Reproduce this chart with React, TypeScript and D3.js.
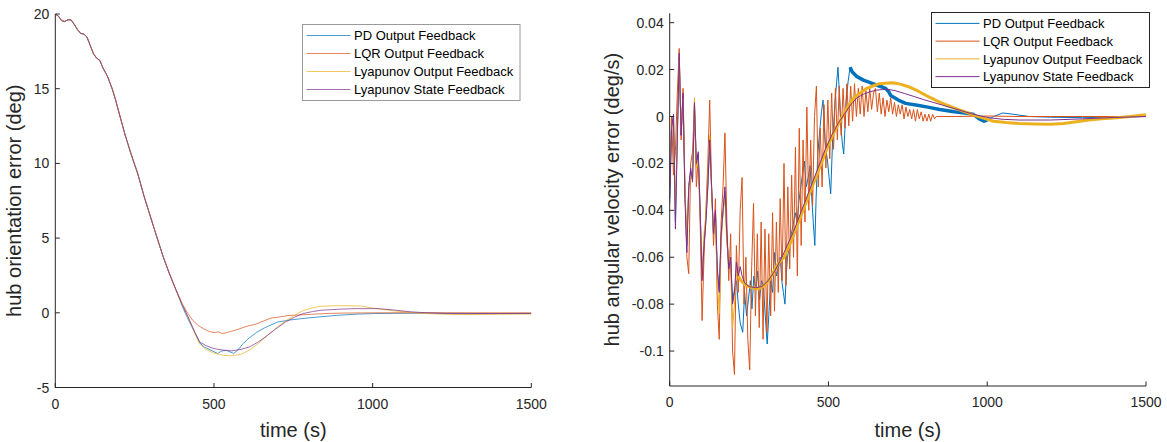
import React from 'react';
import * as d3 from 'd3';

type Pt = [number, number];

const SERIES_NAMES = [
  'PD Output Feedback',
  'LQR Output Feedback',
  'Lyapunov Output Feedback',
  'Lyapunov State Feedback',
];
const COLORS = ['#0072BD', '#D95319', '#EDB120', '#7E2F8E'];

const TIME_TICKS = [0, 500, 1000, 1500];
const ORIENT_TICKS = [-5, 0, 5, 10, 15, 20];
const RATE_TICKS = [-0.1, -0.08, -0.06, -0.04, -0.02, 0, 0.02, 0.04];

// ---- hub orientation error (deg): all four runs share the first 380 s
const orientShared: Pt[] = [
  [0, 20.0], [10, 19.85], [20, 19.55], [30, 19.5], [40, 19.62], [50, 19.6], [60, 19.3],
  [70, 18.95], [80, 18.7], [90, 18.66], [100, 18.45], [110, 17.9], [120, 17.35], [130, 17.05],
  [140, 16.9], [150, 16.4], [165, 15.8], [180, 14.95], [190, 14.25], [200, 13.45], [220, 11.9],
  [240, 10.55], [260, 9.3], [280, 7.78], [300, 6.42], [320, 5.07], [340, 3.75], [360, 2.6],
  [380, 1.55],
];
const pdOrientTail: Pt[] = [
  [390, 1.0], [400, 0.45], [410, -0.05], [420, -0.5], [440, -1.35], [455, -2.0], [470, -2.3],
  [490, -2.5], [511, -2.72], [525, -2.55], [540, -2.52], [562, -2.72], [575, -2.5], [590, -2.1],
  [610, -1.7], [635, -1.3], [660, -1.0], [700, -0.62], [740, -0.48], [780, -0.38], [830, -0.28],
  [893, -0.16], [950, -0.09], [1006, -0.05], [1100, -0.03], [1200, -0.02], [1300, -0.04],
  [1400, -0.05], [1500, -0.05],
];
const lqrOrientTail: Pt[] = [
  [390, 1.1], [400, 0.6], [415, 0.05], [433, -0.5], [450, -0.85], [466, -1.05], [485, -1.25],
  [500, -1.32], [515, -1.28], [525, -1.38], [539, -1.34], [552, -1.25], [567, -1.17], [590, -1.0],
  [612, -0.85], [630, -0.78], [650, -0.6], [680, -0.35], [700, -0.3], [736, -0.18], [792, -0.12],
  [850, -0.05], [900, -0.02], [1000, 0.0], [1100, 0.0], [1200, 0.0], [1300, 0.0], [1500, 0.0],
];
const lyapOutOrientTail: Pt[] = [
  [390, 1.05], [400, 0.55], [420, -0.35], [440, -1.4], [455, -2.1], [475, -2.45], [500, -2.7],
  [530, -2.85], [556, -2.88], [585, -2.78], [612, -2.5], [640, -2.05], [669, -1.5], [700, -0.95],
  [725, -0.55], [755, -0.15], [781, 0.15], [810, 0.33], [837, 0.44], [893, 0.48], [961, 0.46],
  [1006, 0.3], [1062, 0.14], [1120, 0.03], [1174, -0.05], [1230, -0.1], [1287, -0.12],
  [1400, -0.1], [1500, -0.08],
];
const lyapStateOrientTail: Pt[] = [
  [390, 1.05], [400, 0.55], [420, -0.35], [440, -1.3], [455, -1.95], [475, -2.2], [500, -2.4],
  [530, -2.5], [556, -2.55], [585, -2.45], [612, -2.28], [640, -1.95], [669, -1.5], [700, -1.0],
  [725, -0.62], [755, -0.28], [781, -0.05], [810, 0.08], [837, 0.17], [893, 0.24], [949, 0.28],
  [1017, 0.28], [1070, 0.18], [1118, 0.07], [1170, 0.0], [1230, -0.05], [1300, -0.06],
  [1400, -0.05], [1500, -0.04],
];

// ---- hub angular velocity error (deg/s): early samples every 6 s, then explicit points
const RATE_STEP = 6;

const pdRateEarly = [
  -0.035, -0.004, 0.000, -0.045, -0.008, 0.025, -0.008, 0.009, -0.033, -0.055,
  -0.030, -0.023, -0.027, 0.005, -0.021, -0.016, -0.041, -0.068, -0.054, -0.044,
  -0.030, -0.012, -0.031, -0.050, -0.041, -0.066, -0.074, -0.051, -0.041, -0.032,
  -0.051, -0.064, -0.062, -0.078, -0.074, -0.070, -0.080, -0.088,
];
const pdRateLate: Pt[] = [
  [230, -0.092], [236, -0.075], [242, -0.085], [248, -0.078], [254, -0.070], [259, -0.082],
  [265, -0.068], [271, -0.074], [277, -0.066], [283, -0.078], [289, -0.070], [295, -0.072],
  [301, -0.085], [307, -0.097], [312, -0.085], [318, -0.070], [324, -0.075], [330, -0.058],
  [336, -0.068], [342, -0.065], [348, -0.060], [354, -0.071], [358, -0.075], [363, -0.080],
  [367, -0.068], [371, -0.060], [377, -0.055], [383, -0.050], [389, -0.046], [395, -0.041],
  [401, -0.045], [407, -0.036], [413, -0.030], [418, -0.025], [424, -0.019], [430, -0.030],
  [436, -0.026], [442, -0.021], [448, -0.036], [452, -0.045], [457, -0.055], [461, -0.035],
  [466, -0.017], [470, -0.010], [474, -0.004], [478, 0.002], [483, 0.007], [489, -0.010],
  [493, -0.015], [497, -0.019], [502, -0.026], [507, -0.033], [513, -0.010], [517, -0.002],
  [521, 0.007], [526, 0.015], [530, 0.021], [535, 0.008], [539, -0.004], [544, -0.012],
  [548, -0.016], [552, -0.005], [556, 0.007], [562, 0.015], [568, 0.021], [575, 0.019],
  [590, 0.017], [610, 0.0155], [640, 0.014], [660, 0.013], [680, 0.012], [690, 0.0105],
  [696, 0.009], [720, 0.007], [743, 0.0056], [780, 0.0048], [813, 0.004], [850, 0.003],
  [896, 0.002], [930, 0.0015], [955, 0.001], [975, -0.001], [990, -0.002], [1000, -0.0015],
  [1020, 0.0], [1049, 0.0015], [1080, 0.001], [1132, 0.0], [1200, -0.0003], [1300, -0.0005],
  [1400, -0.0004], [1500, 0.0],
];

const lqrRateEarly = [
  -0.030, 0.000, -0.025, -0.015, 0.010, 0.029, -0.010, 0.012, -0.030, -0.060,
  -0.067, -0.020, -0.015, 0.005, -0.030, -0.018, -0.045, -0.087, -0.060, -0.040,
  -0.020, 0.007, -0.030, -0.055, -0.035, -0.080, -0.095, -0.045, -0.030, -0.007,
  -0.045, -0.070, -0.050, -0.100, -0.110, -0.055, -0.075, -0.040, -0.026, -0.080,
  -0.060, -0.095, -0.108, -0.065, -0.037, -0.085, -0.050, -0.090, -0.045, -0.095,
  -0.048, -0.092, -0.050, -0.085, -0.041, -0.083, -0.045, -0.075, -0.035, -0.070,
  -0.020, -0.072, -0.030, -0.065, -0.025, -0.060, -0.013, -0.068, -0.005, -0.055,
  -0.010, -0.045, 0.004, -0.040, -0.010, -0.038, 0.000, 0.013, -0.030, -0.005,
  -0.030, 0.005, -0.022, 0.007, -0.018, 0.010, -0.014, 0.012, -0.010, 0.013,
  -0.008, 0.012, -0.005, 0.014, -0.004, 0.013, -0.002, 0.014, 0.000, 0.012,
  0.001, 0.013, 0.000, 0.011, 0.002, 0.012, 0.003, 0.010, 0.012, 0.002,
  0.010, 0.001, 0.008, 0.000, 0.007, 0.002, 0.008, 0.001, 0.006, 0.000,
  0.005, 0.001, 0.005, -0.001, 0.004, 0.000, 0.003, -0.001, 0.003, -0.002,
  0.003, -0.001, 0.002, -0.002, 0.001, -0.002, 0.001, -0.002, 0.001, -0.001,
  0.000,
];
const lqrRateLate: Pt[] = [
  [900, 0.0], [1000, 0.0002], [1100, 0.0], [1200, 0.0], [1300, 0.0], [1400, 0.0], [1500, 0.0],
];

const lyapOutRateEarly = [
  -0.030, -0.005, 0.000, -0.040, -0.005, 0.024, -0.005, 0.008, -0.030, -0.052,
  -0.030, -0.025, -0.025, 0.008, -0.022, -0.018, -0.040, -0.068, -0.050, -0.042,
  -0.028, -0.008, -0.032, -0.050, -0.045, -0.070, -0.084, -0.055, -0.040, -0.035,
  -0.055, -0.060, -0.065, -0.090, -0.080, -0.066, -0.068,
];
const lyapOutRateLate: Pt[] = [
  [225, -0.070], [240, -0.072], [260, -0.073], [280, -0.0735], [300, -0.072], [320, -0.068],
  [340, -0.063], [360, -0.060], [380, -0.054], [400, -0.047], [420, -0.040], [440, -0.033],
  [460, -0.026], [480, -0.019], [500, -0.012], [520, -0.006], [540, -0.001], [560, 0.004],
  [580, 0.008], [600, 0.010], [620, 0.012], [640, 0.013], [660, 0.014], [680, 0.0142],
  [700, 0.0144], [720, 0.014], [750, 0.0128], [780, 0.011], [810, 0.0088], [840, 0.0068],
  [870, 0.005], [900, 0.0035], [930, 0.002], [960, 0.0005], [990, -0.0008], [1020, -0.002],
  [1060, -0.0026], [1100, -0.003], [1150, -0.0032], [1200, -0.0033], [1240, -0.003],
  [1280, -0.0022], [1320, -0.0015], [1360, -0.001], [1400, -0.0006], [1450, 0.0], [1500, 0.0008],
];

const lyapStateRateEarly = [
  -0.037, -0.005, 0.001, -0.048, -0.010, 0.027, -0.008, 0.010, -0.035, -0.058,
  -0.030, -0.022, -0.028, 0.006, -0.020, -0.015, -0.040, -0.070, -0.055, -0.045,
  -0.030, -0.010, -0.030, -0.050, -0.040, -0.065, -0.075, -0.050, -0.040, -0.030,
  -0.050, -0.065, -0.060, -0.080, -0.075, -0.062, -0.068, -0.064, -0.068,
];
const lyapStateRateLate: Pt[] = [
  [236, -0.071], [250, -0.0725], [270, -0.073], [290, -0.0725], [310, -0.070], [330, -0.066],
  [350, -0.061], [370, -0.055], [390, -0.049], [410, -0.042], [430, -0.035], [450, -0.028],
  [470, -0.021], [490, -0.014], [510, -0.008], [530, -0.003], [550, 0.001], [570, 0.005],
  [590, 0.008], [610, 0.0095], [630, 0.0105], [650, 0.0112], [670, 0.0115], [690, 0.0115],
  [710, 0.011], [740, 0.0098], [770, 0.0085], [800, 0.0072], [830, 0.006], [860, 0.0048],
  [890, 0.0036], [920, 0.0024], [950, 0.0012], [980, 0.0002], [1010, -0.0006], [1050, -0.0012],
  [1100, -0.0015], [1200, -0.0015], [1300, -0.001], [1400, -0.0004], [1500, 0.0],
];

const joinRate = (early: number[], late: Pt[]): Pt[] =>
  early.map((v, i) => [i * RATE_STEP, v] as Pt).concat(late);

const FONT = '"Liberation Sans", Arial, Helvetica, sans-serif';
const INK = '#262626';

type Series = {
  name: string;
  color: string;
  points: Pt[];
  thick?: [number, number, number]; // from, to, width
};

type PanelProps = {
  id: string;
  box: { left: number; right: number; top: number; bottom: number };
  yDomain: [number, number];
  yTicks: number[];
  yLabel: string;
  yLabelX: number;
  series: Series[];
  lineWidth: number;
  lineOpacity: number;
  legend: { x: number; y: number; w: number; h: number; border: string };
};

const Panel = ({
  id, box, yDomain, yTicks, yLabel, yLabelX, series, lineWidth, lineOpacity, legend,
}: PanelProps) => {
  const x = d3.scaleLinear().domain([0, 1500]).range([box.left, box.right]);
  const y = d3.scaleLinear().domain(yDomain).range([box.bottom, box.top]);
  const line = d3.line<Pt>().x((d) => x(d[0])).y((d) => y(d[1]));
  const tickLen = 4.5;
  const rowH = (legend.h - 4) / series.length;

  return (
    <g>
      <defs>
        <clipPath id={`clip-${id}`}>
          <rect x={box.left} y={box.top} width={box.right - box.left} height={box.bottom - box.top} />
        </clipPath>
      </defs>

      <g clipPath={`url(#clip-${id})`}>
        {series.map((s) => (
          <g key={s.name} stroke={s.color} fill="none" strokeOpacity={lineOpacity} strokeLinejoin="round">
            <path d={line(s.points) || ''} strokeWidth={lineWidth} />
            {s.thick && (
              <path
                d={line(s.points.filter((p) => p[0] >= s.thick![0] && p[0] <= s.thick![1])) || ''}
                strokeWidth={s.thick[2]}
              />
            )}
          </g>
        ))}
      </g>

      {/* axes */}
      <line x1={box.left} x2={box.left} y1={box.top} y2={box.bottom} stroke={INK} strokeWidth={1} />
      <line x1={box.left} x2={box.right} y1={box.bottom} y2={box.bottom} stroke={INK} strokeWidth={1} />
      {TIME_TICKS.map((t) => (
        <g key={`xt${t}`}>
          <line x1={x(t)} x2={x(t)} y1={box.bottom} y2={box.bottom - tickLen} stroke={INK} />
          <text x={x(t)} y={box.bottom + 21} textAnchor="middle" fontSize={14} fill={INK} fontFamily={FONT}>
            {t}
          </text>
        </g>
      ))}
      {yTicks.map((v) => (
        <g key={`yt${v}`}>
          <line x1={box.left} x2={box.left + tickLen} y1={y(v)} y2={y(v)} stroke={INK} />
          <text x={box.left - 6} y={y(v)} dy="0.36em" textAnchor="end" fontSize={14} fill={INK} fontFamily={FONT}>
            {String(v)}
          </text>
        </g>
      ))}
      <text
        x={(box.left + box.right) / 2}
        y={436.5}
        textAnchor="middle"
        fontSize={20}
        fill={INK}
        fontFamily={FONT}
      >
        time (s)
      </text>
      <text
        transform={`translate(${yLabelX},${(box.top + box.bottom) / 2}) rotate(-90)`}
        textAnchor="middle"
        fontSize={20}
        fill={INK}
        fontFamily={FONT}
      >
        {yLabel}
      </text>

      {/* legend */}
      <rect x={legend.x} y={legend.y} width={legend.w} height={legend.h} fill="#fff" stroke={legend.border} strokeWidth={1} />
      {series.map((s, i) => {
        const cy = legend.y + 2 + rowH * (i + 0.5);
        return (
          <g key={`lg${s.name}`}>
            <line
              x1={legend.x + 4}
              x2={legend.x + 48}
              y1={cy}
              y2={cy}
              stroke={s.color}
              strokeOpacity={lineOpacity}
              strokeWidth={1}
            />
            <text x={legend.x + 51.5} y={cy} dy="0.36em" fontSize={13} fill="#000" fontFamily={FONT}>
              {s.name}
            </text>
          </g>
        );
      })}
    </g>
  );
};

export default function App() {
  const orientSeries: Series[] = [
    pdOrientTail, lqrOrientTail, lyapOutOrientTail, lyapStateOrientTail,
  ].map((tail, i) => ({ name: SERIES_NAMES[i], color: COLORS[i], points: orientShared.concat(tail) }));

  const rateSeries: Series[] = [
    { name: SERIES_NAMES[0], color: COLORS[0], points: joinRate(pdRateEarly, pdRateLate), thick: [568, 1000, 3.5] },
    { name: SERIES_NAMES[1], color: COLORS[1], points: joinRate(lqrRateEarly, lqrRateLate) },
    { name: SERIES_NAMES[2], color: COLORS[2], points: joinRate(lyapOutRateEarly, lyapOutRateLate), thick: [216, 1500, 3] },
    { name: SERIES_NAMES[3], color: COLORS[3], points: joinRate(lyapStateRateEarly, lyapStateRateLate) },
  ];

  return (
    <div style={{ position: 'fixed', left: 0, top: 0 }}>
      <svg width={1167} height={442} style={{ display: 'block', background: '#fff' }}>
        <Panel
          id="orient"
          box={{ left: 55.3, right: 531.3, top: 14, bottom: 387.5 }}
          yDomain={[-5, 20]}
          yTicks={ORIENT_TICKS}
          yLabel="hub orientation error (deg)"
          yLabelX={21}
          series={orientSeries}
          lineWidth={1}
          lineOpacity={0.7}
          legend={{ x: 302.5, y: 24.5, w: 217.5, h: 76, border: '#9a9a9a' }}
        />
        <Panel
          id="rate"
          box={{ left: 669.7, right: 1146, top: 13.3, bottom: 386 }}
          yDomain={[-0.1149, 0.044]}
          yTicks={RATE_TICKS}
          yLabel="hub angular velocity error (deg/s)"
          yLabelX={619}
          series={rateSeries}
          lineWidth={1}
          lineOpacity={1}
          legend={{ x: 931.5, y: 12.5, w: 218, h: 75, border: '#262626' }}
        />
      </svg>
    </div>
  );
}
